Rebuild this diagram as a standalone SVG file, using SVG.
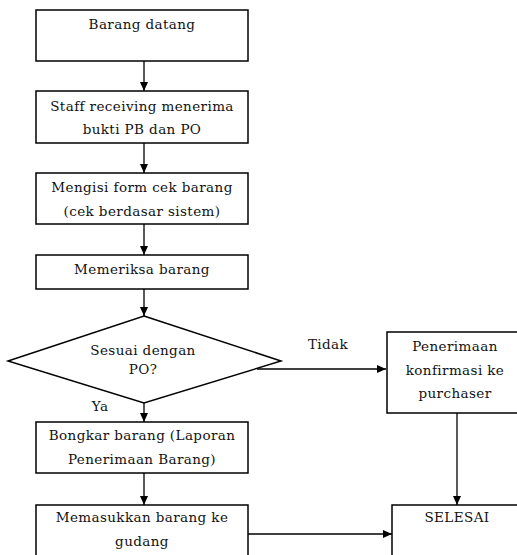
<svg xmlns="http://www.w3.org/2000/svg" width="517" height="555" viewBox="0 0 517 555">
<style>
.box{fill:#fff;stroke:#000;stroke-width:1.5}
.t{font-family:"DejaVu Serif","Liberation Serif",serif;font-size:13.5px;letter-spacing:0.4px;fill:#111;text-anchor:middle}
.l{fill:none;stroke:#000;stroke-width:1.3}
</style>
<defs>
<marker id="a" markerWidth="10" markerHeight="10" refX="9" refY="5" orient="auto" markerUnits="userSpaceOnUse">
<path d="M0,1 L9,5 L0,9 Z" fill="#000"/>
</marker>
</defs>
<rect width="517" height="555" fill="#fff"/>
<g id="n1"><rect class="box" x="36" y="10" width="212" height="51"/><text class="t" x="142" y="29">Barang datang</text></g>
<g id="n2"><rect class="box" x="36" y="91" width="212" height="52"/><text class="t" x="142" y="111">Staff receiving menerima</text><text class="t" x="142" y="134">bukti PB dan PO</text></g>
<g id="n3"><rect class="box" x="36" y="173" width="212" height="51"/><text class="t" x="142" y="192">Mengisi form cek barang</text><text class="t" x="142" y="216">(cek berdasar sistem)</text></g>
<g id="n4"><rect class="box" x="36" y="255" width="212" height="34"/><text class="t" x="142" y="274">Memeriksa barang</text></g>
<g id="n5"><polygon class="box" points="144,316 281,361 144,403 8,361"/><text class="t" x="143" y="355">Sesuai dengan</text><text class="t" x="143" y="374">PO?</text></g>
<g id="n6"><rect class="box" x="387" y="332" width="135" height="81"/><text class="t" x="455" y="351">Penerimaan</text><text class="t" x="455" y="375">konfirmasi ke</text><text class="t" x="455" y="398">purchaser</text></g>
<g id="n7"><rect class="box" x="36" y="422" width="212" height="51"/><text class="t" x="142" y="440">Bongkar barang (Laporan</text><text class="t" x="142" y="464">Penerimaan Barang)</text></g>
<g id="n8"><rect class="box" x="36" y="505" width="212" height="60"/><text class="t" x="142" y="522">Memasukkan barang ke</text><text class="t" x="142" y="546">gudang</text></g>
<g id="n9"><rect class="box" x="392" y="505" width="135" height="60"/><text class="t" x="457" y="522">SELESAI</text></g>
<g id="edges">
<line class="l" x1="144" y1="61" x2="144" y2="91" marker-end="url(#a)"/>
<line class="l" x1="144" y1="143" x2="144" y2="173" marker-end="url(#a)"/>
<line class="l" x1="144" y1="224" x2="144" y2="255" marker-end="url(#a)"/>
<line class="l" x1="144" y1="289" x2="144" y2="316" marker-end="url(#a)"/>
<line class="l" x1="257" y1="369" x2="386" y2="369" marker-end="url(#a)"/>
<line class="l" x1="144" y1="403" x2="144" y2="422" marker-end="url(#a)"/>
<line class="l" x1="144" y1="473" x2="144" y2="505" marker-end="url(#a)"/>
<line class="l" x1="248" y1="534" x2="392" y2="534" marker-end="url(#a)"/>
<line class="l" x1="457" y1="413" x2="457" y2="505" marker-end="url(#a)"/>
<text class="t" x="328" y="349">Tidak</text>
<text class="t" x="100" y="411">Ya</text>
</g>
</svg>
